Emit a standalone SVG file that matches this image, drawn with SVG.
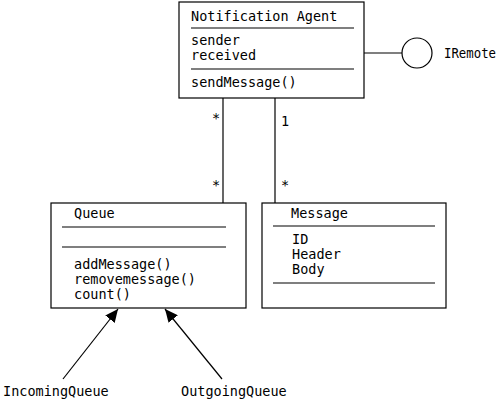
<svg xmlns="http://www.w3.org/2000/svg" width="500" height="401" viewBox="0 0 500 401">
<style>
.box{fill:#fff;stroke:#000;stroke-width:1.2}
.sep{stroke:#000;stroke-width:1.2}
.ln{stroke:#000;stroke-width:1.2;fill:none}
text{font-family:"DejaVu Sans Mono","Liberation Mono",monospace;font-size:13.5px;fill:#000}
</style>
<defs>
<marker id="ah" markerWidth="14" markerHeight="12" refX="13" refY="6" orient="auto" markerUnits="userSpaceOnUse">
<path d="M0,0 L13,6 L0,12 Z" fill="#000"/>
</marker>
</defs>
<g id="connectors">
<line class="ln" x1="223" y1="98" x2="223" y2="203"/>
<line class="ln" x1="275" y1="98" x2="275" y2="203"/>
<line class="ln" x1="364" y1="53" x2="402" y2="53"/>
<line class="ln" x1="63" y1="379" x2="118" y2="309" marker-end="url(#ah)"/>
<line class="ln" x1="222" y1="379" x2="165" y2="309" marker-end="url(#ah)"/>
<text x="212" y="123">*</text>
<text x="281" y="126">1</text>
<text x="212" y="190">*</text>
<text x="281" y="190">*</text>
</g>
<g id="agent">
<rect class="box" x="179" y="2" width="185" height="96"/>
<text x="191" y="21">Notification Agent</text>
<line class="sep" x1="191" y1="28" x2="354" y2="28"/>
<text x="191" y="45">sender</text>
<text x="191" y="60">received</text>
<line class="sep" x1="191" y1="69" x2="354" y2="69"/>
<text x="191" y="87">sendMessage()</text>
</g>
<g id="iremote">
<circle cx="417" cy="53" r="15" fill="#fff" stroke="#000" stroke-width="1.2"/>
<text x="444" y="58" textLength="52" lengthAdjust="spacingAndGlyphs">IRemote</text>
</g>
<g id="queue">
<rect class="box" x="51" y="203" width="195" height="105"/>
<text x="74" y="218">Queue</text>
<line class="sep" x1="62" y1="227" x2="226" y2="227"/>
<line class="sep" x1="62" y1="247" x2="226" y2="247"/>
<text x="74" y="269">addMessage()</text>
<text x="74" y="284">removemessage()</text>
<text x="74" y="299">count()</text>
</g>
<g id="message">
<rect class="box" x="262" y="203" width="184" height="105"/>
<text x="291" y="218">Message</text>
<line class="sep" x1="273" y1="226" x2="435" y2="226"/>
<text x="292" y="244">ID</text>
<text x="292" y="259">Header</text>
<text x="292" y="274">Body</text>
<line class="sep" x1="273" y1="283" x2="435" y2="283"/>
</g>
<g id="incoming">
<text x="3" y="396">IncomingQueue</text>
</g>
<g id="outgoing">
<text x="181" y="396">OutgoingQueue</text>
</g>
</svg>
